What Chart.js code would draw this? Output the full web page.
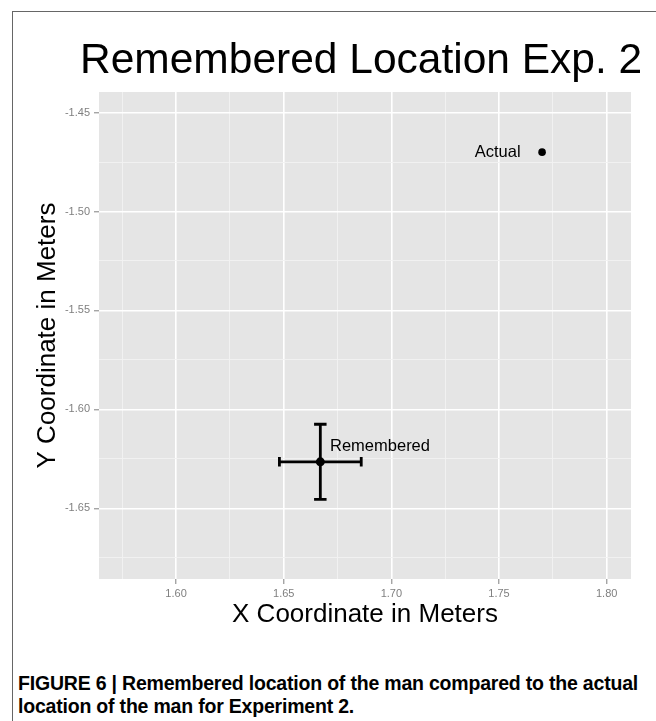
<!DOCTYPE html>
<html>
<head>
<meta charset="utf-8">
<script src="https://cdn.jsdelivr.net/npm/chart.js@4"></script>
<style>
  body { margin: 0; background: #fff; width: 656px; height: 721px; overflow: hidden; position: relative; }
  #frame { position: absolute; left: 12px; top: 11px; right: -10px; bottom: -10px; border-left: 1px solid #666; border-top: 1px solid #666; }
  #chart { position: absolute; left: 0; top: 0; }
  #title { position: absolute; left: 80px; top: 38px; font: 42.5px/1 "Liberation Sans", Arial, sans-serif; color: #000; white-space: nowrap; }
  #caption { position: absolute; left: 18px; top: 672px; width: 636px; font: bold 19.5px/23px "Liberation Sans", Arial, sans-serif; letter-spacing: -0.2px; color: #000; }
</style>
</head>
<body>
<div id="frame"></div>
<canvas id="chart" width="656" height="640"></canvas>
<div id="title">Remembered Location Exp. 2</div>
<div id="caption">FIGURE 6 | Remembered location of the man compared to the actual location of the man for Experiment 2.</div>
<script>
// points and their spread (meters)
const pointNames = ["Actual", "Remembered"];
const pointX = [1.77, 1.667];
const pointY = [-1.47, -1.6265];
const errX = [0, 0.019];
const errY = [0, 0.019];
// where the text labels sit
const labelX = [1.76, 1.6715];
const labelY = [-1.47, -1.6185];
const labelAlign = ["right", "left"];

const xTickValues = [1.60, 1.65, 1.70, 1.75, 1.80];
const xMinorValues = [1.575, 1.625, 1.675, 1.725, 1.775];
const yTickValues = [-1.65, -1.60, -1.55, -1.50, -1.45];
const yMinorValues = [-1.675, -1.625, -1.575, -1.525, -1.475];
const xLimits = [1.5642, 1.8113];
const yLimits = [-1.6857, -1.4396];

const capX = 0.0029;  // half width of the vertical bar's caps
const capY = 0.0024;  // half height of the horizontal bar's caps

const tickFont = { family: "Liberation Sans, Arial, sans-serif", size: 11 };
const titleFont = { family: "Liberation Sans, Arial, sans-serif", size: 26, lineHeight: 1 };

function buildTicks(major, minor) {
  return major.map(v => ({ value: v, minor: false }))
    .concat(minor.map(v => ({ value: v, minor: true })))
    .sort((a, b) => a.value - b.value);
}

const gridOpts = {
  color: c => c.tick && c.tick.minor ? "#f2f2f2" : "#ffffff",
  lineWidth: c => c.tick && c.tick.minor ? 0.9 : 1.6,
  tickColor: c => c.tick && c.tick.minor ? "rgba(0,0,0,0)" : "#7f7f7f",
  tickLength: 5,
  tickWidth: 1
};

const panelBg = {
  id: "panelBg",
  beforeDraw(chart) {
    const { ctx, chartArea: a } = chart;
    ctx.save();
    ctx.fillStyle = "#e5e5e5";
    ctx.fillRect(a.left, a.top, a.right - a.left, a.bottom - a.top);
    ctx.restore();
  }
};

const errorBars = {
  id: "errorBars",
  afterDatasetsDraw(chart) {
    const { ctx, scales: { x, y } } = chart;
    ctx.save();
    ctx.strokeStyle = "#000";
    ctx.lineWidth = 2.8;
    pointX.forEach((px, i) => {
      if (!errX[i] && !errY[i]) return;
      const cx = x.getPixelForValue(px), cy = y.getPixelForValue(pointY[i]);
      const x0 = x.getPixelForValue(px - errX[i]), x1 = x.getPixelForValue(px + errX[i]);
      const y0 = y.getPixelForValue(pointY[i] - errY[i]), y1 = y.getPixelForValue(pointY[i] + errY[i]);
      const cw0 = x.getPixelForValue(px - capX), cw1 = x.getPixelForValue(px + capX);
      const ch0 = y.getPixelForValue(pointY[i] - capY), ch1 = y.getPixelForValue(pointY[i] + capY);
      ctx.beginPath();
      // horizontal bar + caps
      ctx.moveTo(x0, cy); ctx.lineTo(x1, cy);
      ctx.moveTo(x0, ch0); ctx.lineTo(x0, ch1);
      ctx.moveTo(x1, ch0); ctx.lineTo(x1, ch1);
      // vertical bar + caps
      ctx.moveTo(cx, y0); ctx.lineTo(cx, y1);
      ctx.moveTo(cw0, y0); ctx.lineTo(cw1, y0);
      ctx.moveTo(cw0, y1); ctx.lineTo(cw1, y1);
      ctx.stroke();
    });
    ctx.restore();
  }
};

const pointLabels = {
  id: "pointLabels",
  afterDatasetsDraw(chart) {
    const { ctx, scales: { x, y } } = chart;
    ctx.save();
    ctx.fillStyle = "#000";
    ctx.font = "16.5px Liberation Sans, Arial, sans-serif";
    ctx.textBaseline = "middle";
    pointNames.forEach((name, i) => {
      ctx.textAlign = labelAlign[i];
      ctx.fillText(name, x.getPixelForValue(labelX[i]), y.getPixelForValue(labelY[i]));
    });
    ctx.restore();
  }
};

new Chart(document.getElementById("chart"), {
  type: "scatter",
  data: {
    datasets: [{
      data: pointX.map((v, i) => ({ x: v, y: pointY[i] })),
      backgroundColor: "#000",
      borderWidth: 0,
      pointRadius: [3.8, 4.5]
    }]
  },
  options: {
    responsive: false,
    animation: false,
    layout: { padding: { left: 35, top: 92, right: 25, bottom: 12.6 } },
    plugins: { legend: { display: false }, tooltip: { enabled: false } },
    scales: {
      x: {
        type: "linear",
        min: xLimits[0],
        max: xLimits[1],
        afterBuildTicks: s => { s.ticks = buildTicks(xTickValues, xMinorValues); },
        afterFit: s => { s.height = 48.4; },
        border: { display: false },
        grid: gridOpts,
        ticks: {
          autoSkip: false, maxRotation: 0, padding: 3,
          color: "#7f7f7f", font: tickFont,
          callback: (v, i, t) => t[i].minor ? "" : v.toFixed(2)
        },
        title: { display: true, text: "X Coordinate in Meters", color: "#000", font: titleFont, padding: 0 }
      },
      y: {
        type: "linear",
        min: yLimits[0],
        max: yLimits[1],
        afterBuildTicks: s => { s.ticks = buildTicks(yTickValues, yMinorValues); },
        afterFit: s => { s.width = 64; },
        border: { display: false },
        grid: gridOpts,
        ticks: {
          autoSkip: false, padding: 4,
          color: "#7f7f7f", font: tickFont,
          callback: (v, i, t) => t[i].minor ? "" : v.toFixed(2)
        },
        title: { display: true, text: "Y Coordinate in Meters", color: "#000", font: titleFont, padding: 0 }
      }
    }
  },
  plugins: [panelBg, errorBars, pointLabels]
});
</script>
</body>
</html>
